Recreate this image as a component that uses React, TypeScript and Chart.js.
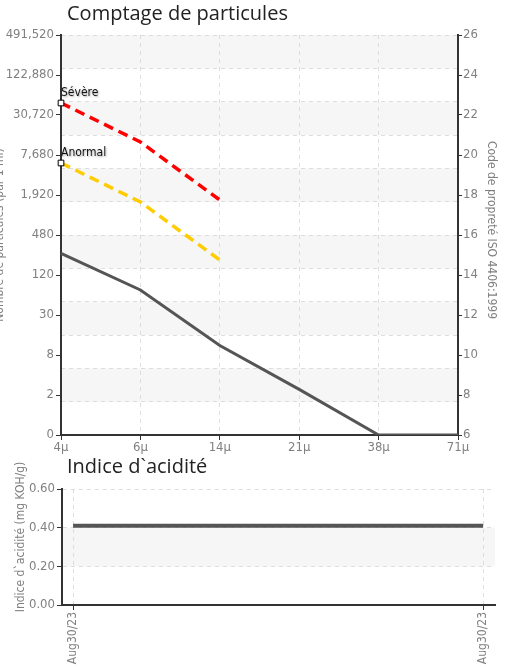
import React, { useEffect, useRef } from 'react';
import { Chart, registerables } from 'chart.js';

Chart.register(...registerables);

// ---------- Data ----------
const sizeCategories = ['4μ', '6μ', '14μ', '21μ', '38μ', '71μ'];
const severeCodes = [22.6, 20.65, 17.75];
const abnormalCodes = [19.6, 17.65, 14.75];
const sampleCodes = [15.08, 13.25, 10.47, 8.28, 6, 6];
const isoCodeTicks = [6, 8, 10, 12, 14, 16, 18, 20, 22, 24, 26];
const particleCountLabels = ['0', '2', '8', '30', '120', '480', '1,920', '7,680', '30,720', '122,880', '491,520'];
const seriesNames = ['Sévère', 'Anormal', 'Échantillon'];

const acidDates = ['Aug30/23', 'Aug30/23'];
const acidValues = [0.41, 0.41];

// ---------- Style ----------
const NARROW = "'DejaVu Sans Condensed', 'DejaVu Sans', sans-serif";
const TITLE_FONT = "'Open Sans', 'Noto Sans', sans-serif";
const TICK_COLOR = '#808080';
const AXIS_COLOR = '#333333';
const GRID_COLOR = '#dddddd';
const BAND_COLOR = '#f6f6f6';

const decorPlugin = {
  id: 'decor',
  beforeDraw(chart: any, _args: any, opts: any) {
    const { ctx, chartArea } = chart;
    const sc = chart.scales[opts.bandScale];
    if (!sc) return;
    ctx.save();
    ctx.fillStyle = BAND_COLOR;
    for (const [a, b] of opts.bands as number[][]) {
      const y1 = sc.getPixelForValue(b);
      const y2 = sc.getPixelForValue(a);
      ctx.fillRect(chartArea.left, y1, chartArea.right - chartArea.left, y2 - y1);
    }
    ctx.restore();
  },
  afterDraw(chart: any, _args: any, opts: any) {
    const { ctx, chartArea } = chart;
    ctx.save();
    ctx.fillStyle = '#222';
    ctx.font = `${opts.titleSize}px ${TITLE_FONT}`;
    ctx.textAlign = 'left';
    ctx.textBaseline = 'middle';
    ctx.fillText(opts.title, chartArea.left + opts.titleDx, opts.titleY);
    ctx.fillStyle = TICK_COLOR;
    ctx.font = `12px ${NARROW}`;
    ctx.textAlign = 'center';
    const midY = (chartArea.top + chartArea.bottom) / 2;
    for (const t of opts.axisTitles) {
      ctx.save();
      ctx.translate(t.x, midY + (t.dy || 0));
      ctx.rotate(t.rot);
      ctx.fillText(t.text, 0, 0);
      ctx.restore();
    }
    ctx.restore();
  },
};

const pointLabelPlugin = {
  id: 'pointLabels',
  afterDatasetsDraw(chart: any, _args: any, opts: any) {
    if (!opts.indices) return;
    const { ctx } = chart;
    ctx.save();
    ctx.font = `12px ${NARROW}`;
    ctx.fillStyle = '#111';
    ctx.textAlign = 'left';
    ctx.textBaseline = 'bottom';
    ctx.shadowColor = 'rgba(0,0,0,0.35)';
    ctx.shadowBlur = 2;
    ctx.shadowOffsetX = 1;
    ctx.shadowOffsetY = 1;
    for (const i of opts.indices as number[]) {
      const meta = chart.getDatasetMeta(i);
      const p = meta.data[0];
      ctx.fillText(chart.data.datasets[i].label, p.x, p.y - 4);
    }
    ctx.restore();
  },
};

function TopChart() {
  const ref = useRef<HTMLCanvasElement>(null);
  useEffect(() => {
    if (!ref.current) return;
    const tickFont = { family: NARROW, size: 13 };
    const chart = new Chart(ref.current, {
      type: 'line',
      data: {
        labels: sizeCategories,
        datasets: [
          {
            label: seriesNames[0],
            data: severeCodes,
            yAxisID: 'yr',
            borderColor: '#ff0000',
            borderWidth: 3.5,
            borderDash: [10, 6],
            pointStyle: 'rect',
            pointRadius: severeCodes.map((_, i) => (i === 0 ? 4 : 0)),
            pointBackgroundColor: '#ffffff',
            pointBorderColor: '#000000',
            pointBorderWidth: 1,
            tension: 0,
          },
          {
            label: seriesNames[1],
            data: abnormalCodes,
            yAxisID: 'yr',
            borderColor: '#ffcc00',
            borderWidth: 3.5,
            borderDash: [10, 6],
            pointStyle: 'rect',
            pointRadius: abnormalCodes.map((_, i) => (i === 0 ? 4 : 0)),
            pointBackgroundColor: '#ffffff',
            pointBorderColor: '#000000',
            pointBorderWidth: 1,
            tension: 0,
          },
          {
            label: seriesNames[2],
            data: sampleCodes,
            yAxisID: 'yr',
            borderColor: '#555555',
            borderWidth: 3,
            pointRadius: 0,
            tension: 0,
          },
        ],
      },
      options: {
        animation: false,
        responsive: false,
        events: [],
        layout: { padding: { top: 35, left: 0, right: 0, bottom: 0 } },
        plugins: {
          legend: { display: false },
          tooltip: { enabled: false },
          title: { display: false },
          decor: {
            bandScale: 'yg',
            bands: [[11, 12], [9, 10], [7, 8], [5, 6], [3, 4], [1, 2]],
            title: 'Comptage de particules',
            titleSize: 20,
            titleDx: 6,
            titleY: 14,
            axisTitles: [
              { text: 'Nombre de particules (par 1 ml)', x: 0, rot: -Math.PI / 2, dy: 0 },
              { text: 'Code de propreté ISO 4406:1999', x: 491, rot: Math.PI / 2, dy: -5 },
            ],
          },
          pointLabels: { indices: [0, 1] },
        } as any,
        scales: {
          x: {
            type: 'category',
            offset: false,
            grid: { color: GRID_COLOR, tickColor: AXIS_COLOR, tickLength: 5, drawOnChartArea: true },
            border: { color: AXIS_COLOR, width: 2, dash: [4, 4] },
            ticks: { color: TICK_COLOR, font: tickFont, padding: 0, maxRotation: 0, autoSkip: false },
            afterFit: (s: any) => { s.height = 20; },
          },
          yl: {
            type: 'linear',
            position: 'left',
            min: 6,
            max: 26,
            afterBuildTicks: (s: any) => { s.ticks = isoCodeTicks.map((v) => ({ value: v })); },
            ticks: {
              color: TICK_COLOR,
              font: tickFont,
              padding: 2,
              callback: (_v: any, i: number) => particleCountLabels[i],
            },
            grid: { drawOnChartArea: false, tickColor: AXIS_COLOR, tickLength: 5 },
            border: { color: AXIS_COLOR, width: 2 },
            afterFit: (s: any) => { s.width = 61; },
          },
          yg: {
            type: 'linear',
            position: 'left',
            min: 0,
            max: 12,
            ticks: { display: false, stepSize: 1 },
            grid: { color: GRID_COLOR, drawTicks: false },
            border: { display: false, dash: [4, 4] },
            afterFit: (s: any) => { s.width = 0; },
          },
          yr: {
            type: 'linear',
            position: 'right',
            min: 6,
            max: 26,
            afterBuildTicks: (s: any) => { s.ticks = isoCodeTicks.map((v) => ({ value: v })); },
            ticks: { color: TICK_COLOR, font: tickFont, padding: 1 },
            grid: { drawOnChartArea: false, tickColor: AXIS_COLOR, tickLength: 4 },
            border: { color: AXIS_COLOR, width: 2 },
            afterFit: (s: any) => { s.width = 50; },
          },
        },
      } as any,
      plugins: [decorPlugin, pointLabelPlugin],
    });
    return () => chart.destroy();
  }, []);
  return <canvas ref={ref} width={508} height={455} style={{ position: 'absolute', left: 0, top: 0 }} />;
}

function BottomChart() {
  const ref = useRef<HTMLCanvasElement>(null);
  useEffect(() => {
    if (!ref.current) return;
    const tickFont = { family: NARROW, size: 13 };
    const chart = new Chart(ref.current, {
      type: 'line',
      data: {
        datasets: [
          {
            label: 'Indice d`acidité',
            data: acidValues.map((v, i) => ({ x: i, y: v })),
            borderColor: '#555555',
            borderWidth: 4,
            pointRadius: 0,
            tension: 0,
          },
        ],
      },
      options: {
        animation: false,
        responsive: false,
        events: [],
        layout: { padding: { top: 34, left: 0, right: 13, bottom: 0 } },
        plugins: {
          legend: { display: false },
          tooltip: { enabled: false },
          title: { display: false },
          decor: {
            bandScale: 'y',
            bands: [[0.2, 0.4]],
            title: 'Indice d`acidité',
            titleSize: 20,
            titleDx: 5,
            titleY: 12,
            axisTitles: [
              { text: 'Indice d`acidité (mg KOH/g)', x: 21, rot: -Math.PI / 2, dy: -10 },
            ],
          },
        } as any,
        scales: {
          x: {
            type: 'linear',
            min: -0.027,
            max: 1.029,
            afterBuildTicks: (s: any) => { s.ticks = acidDates.map((_, i) => ({ value: i })); },
            ticks: {
              color: TICK_COLOR,
              font: { family: NARROW, size: 12 },
              padding: 2,
              minRotation: 90,
              maxRotation: 90,
              autoSkip: false,
              callback: (_v: any, i: number) => acidDates[i],
            },
            grid: { color: GRID_COLOR, tickColor: AXIS_COLOR, tickLength: 5 },
            border: { color: AXIS_COLOR, width: 2, dash: [4, 4] },
            afterFit: (s: any) => { s.height = 62; },
          },
          y: {
            type: 'linear',
            min: 0,
            max: 0.6,
            ticks: {
              stepSize: 0.2,
              color: TICK_COLOR,
              font: tickFont,
              padding: 2,
              callback: (v: any) => Number(v).toFixed(2),
            },
            grid: { color: GRID_COLOR, tickColor: AXIS_COLOR, tickLength: 5 },
            border: { color: AXIS_COLOR, width: 2, dash: [4, 4] },
            afterFit: (s: any) => { s.width = 62; },
          },
        },
      } as any,
      plugins: [decorPlugin],
    });
    return () => chart.destroy();
  }, []);
  return <canvas ref={ref} width={508} height={212} style={{ position: 'absolute', left: 0, top: 455 }} />;
}

export default function App() {
  return (
    <div style={{ position: 'absolute', left: 0, top: 0, width: 508, height: 667, background: '#fff' }}>
      <TopChart />
      <BottomChart />
    </div>
  );
}
